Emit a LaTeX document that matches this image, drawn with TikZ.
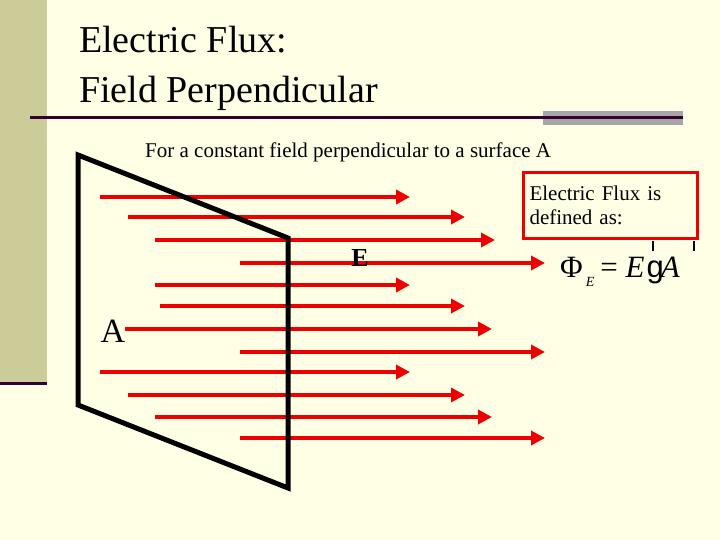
\documentclass[tikz,border=0pt]{standalone}
\usepackage{fontspec}
\setmainfont{Liberation Serif}
\newfontfamily\arialf{Liberation Sans}
\usetikzlibrary{arrows.meta}
\definecolor{bg}{HTML}{FFFFE6}
\definecolor{side}{HTML}{CCCC99}
\definecolor{dk}{HTML}{330033}
\definecolor{rd}{HTML}{EE0000}
\begin{document}
\begin{tikzpicture}[x=1pt,y=-1pt,
 fld/.style={draw=rd,line width=4.5pt,-{Triangle[length=14pt,width=14pt]}},
 txt/.style={inner sep=0,anchor=west},
 tick/.style={line width=2.5pt}]
\useasboundingbox (0,0) rectangle (720,540);
\fill[bg] (0,0) rectangle (720,540);
\fill[side] (0,0) rectangle (47,383);
\draw[dk,line width=3pt] (0,383) -- (47,383);
\fill[black!35] (543,111) rectangle (683,125);
\draw[dk,line width=3pt] (30,118) -- (683,118);
\node[txt,font=\fontsize{38}{50}\selectfont,align=left,anchor=north west] (title) at (79,26) {Electric Flux:\\Field Perpendicular};
\node[txt,font=\fontsize{21}{24}\selectfont] (sub) at (145,152) {For a constant field perpendicular to a surface A};
\coordinate (p1) at (78,155); \coordinate (p2) at (288,238);
\coordinate (p3) at (288,488); \coordinate (p4) at (78,405);
\foreach \a/\b/\y [count=\i] in {100/410/197,128/465/217,155/495/240,240/545/263,155/410/285,160/465/306,125/492/329,240/545/352,100/410/372,128/465/395,155/492/417,240/545/438}{
 \coordinate (s\i) at (\a,\y); \coordinate (e\i) at (\b,\y);
 \draw[fld] (s\i) -- (e\i);}
\draw[line width=5pt,line join=miter] (p1) -- (p2) -- (p3) -- (p4) -- cycle;
\node[font=\fontsize{26}{28}\selectfont\bfseries] (E) at (360,258) {E};
\node[font=\fontsize{34}{36}\selectfont] (A) at (113,331) {A};
\node[draw=rd,line width=3pt,minimum width=173pt,minimum height=66pt,anchor=north west,inner sep=6pt,align=left,font=\fontsize{21}{24}\selectfont,text width=162pt] (box) at (522,171) {Electric Flux is\\defined as:};
\node[font=\fontsize{31}{32}\selectfont,anchor=west,inner sep=0] (f) at (560,272) {Φ\kern3pt\raisebox{-9pt}{\fontsize{14}{14}\selectfont\itshape E}\kern6pt= \textit{E}\kern2pt{\arialf g}\kern-3pt\textit{A}};
\coordinate (t1a) at (653,241); \coordinate (t1b) at (653,251);
\coordinate (t2a) at (694,241); \coordinate (t2b) at (694,251);
\draw[tick] (t1a) -- (t1b); \draw[tick] (t2a) -- (t2b);
\end{tikzpicture}
\end{document}
